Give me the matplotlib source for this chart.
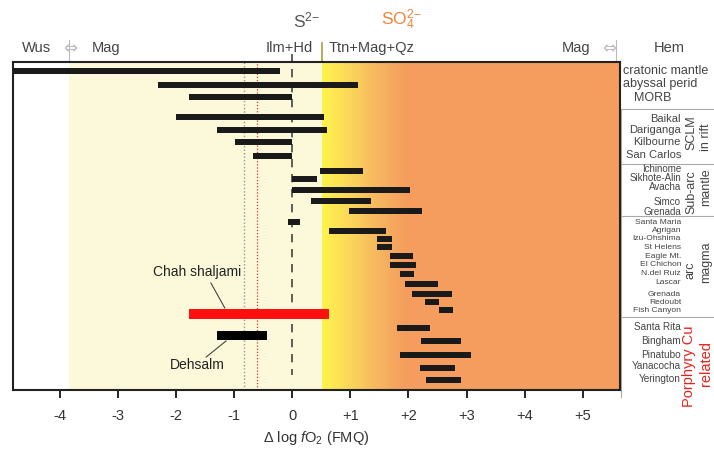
#!/usr/bin/env python3
import numpy as np
import matplotlib
matplotlib.use("Agg")
import matplotlib.pyplot as plt
from matplotlib.colors import LinearSegmentedColormap
from matplotlib.transforms import blended_transform_factory

plt.rcParams['font.family'] = ['Liberation Sans', 'DejaVu Sans']
plt.rcParams['mathtext.fontset'] = 'custom'
plt.rcParams['mathtext.rm'] = 'Liberation Sans'
plt.rcParams['mathtext.it'] = 'Liberation Sans:italic'

# fO2 ranges (delta log fO2 relative to FMQ), one row per locality
names = ["cratonic mantle", "abyssal perid", "MORB",
         "Baikal", "Dariganga", "Kilbourne", "San Carlos",
         "Ichinome", "Sikhote-Alin", "Avacha", "Simco", "Grenada",
         "Santa Maria", "Agrigan", "Izu-Ohshima", "St Helens", "Eagle Mt.",
         "El Chichon", "N.del Ruiz", "Lascar", "Grenada", "Redoubt", "Fish Canyon",
         "Santa Rita", "Bingham", "Pinatubo", "Yanacocha", "Yerington"]
lo = [-4.8, -2.31, -1.77,
      -2.0, -1.29, -0.99, -0.68,
      0.47, 0.0, 0.0, 0.33, 0.98,
      -0.08, 0.63, 1.46, 1.46, 1.68, 1.69, 1.86, 1.94, 2.06, 2.29, 2.52,
      1.80, 2.22, 1.86, 2.20, 2.31]
hi = [-0.21, 1.13, 0.0,
      0.54, 0.60, 0.0, 0.0,
      1.22, 0.42, 2.02, 1.36, 2.23,
      0.13, 1.61, 1.71, 1.71, 2.08, 2.13, 2.10, 2.50, 2.75, 2.53, 2.77,
      2.37, 2.91, 3.07, 2.80, 2.91]
# row positions (uneven spacing between groups), counted down from the top frame
row_y = [9, 23, 35,
         55, 68, 80, 94,
         109, 117, 128, 139, 149,
         160, 169, 177, 185, 194, 203, 212, 222, 232, 240, 248,
         266, 279, 293, 306, 318]
label_y = [9, 22, 36,
           57, 68, 80, 93,
           107, 116, 125, 140, 150,
           161, 169, 177, 185.5, 194, 203, 211.5, 220, 232, 240, 248,
           265, 279, 293, 304, 317]

# this study
study = ["Chah shaljami", "Dehsalm"]
study_lo = [-1.77, -1.29]
study_hi = [0.64, -0.44]
study_y = [252, 273]

ticks = [-4, -3, -2, -1, 0, 1, 2, 3, 4, 5]
tick_labels = ["-4", "-3", "-2", "-1", "0", "+1", "+2", "+3", "+4", "+5"]

fig = plt.figure(figsize=(7.14, 4.55), dpi=100)
ax = fig.add_axes([13.3 / 714, 1 - 390 / 455, (620 - 13.3) / 714, 328 / 455])
x0, x1 = -4.8, 5.64
ax.set_xlim(x0, x1)
ax.set_ylim(328, 0)

# background: Wus | Mag (pale) | gradient | SO4 field
ax.axvspan(-3.84, 0.52, color="#FCF8DA", lw=0, zorder=0)
ax.axvspan(1.95, x1, color="#F49D5E", lw=0, zorder=0)
cmap = LinearSegmentedColormap.from_list("g", ["#FFF44C", "#FBD65A", "#F7B660", "#F49D5E"])
grad = np.linspace(0, 1, 256).reshape(1, -1)
ax.imshow(grad, cmap=cmap, aspect="auto", extent=[0.52, 1.95, 328, 0], zorder=0)

ax.axvline(-0.83, color="#999999", lw=1.0, ls=(0, (1, 1.5)), zorder=1)
ax.axvline(-0.6, color="#E03030", lw=0.9, ls=(0, (1, 1.5)), zorder=1)
ax.plot([0, 0], [-8, 313], color="#444444", lw=1.2, ls=(0, (5, 4)), zorder=1, clip_on=False)

heights = [6.5] + [5.5] * (len(lo) - 1)
ax.barh(row_y, np.array(hi) - np.array(lo), left=lo, height=heights, color="#1a1a1a", zorder=3)
ax.barh(study_y[0], study_hi[0] - study_lo[0], left=study_lo[0], height=10, color="#FF1010", zorder=3)
ax.barh(study_y[1], study_hi[1] - study_lo[1], left=study_lo[1], height=9, color="#000000", zorder=3)

ax.text(-1.63, 210, study[0], fontsize=10, ha="center", va="center", color="#222222")
ax.plot([-1.4, -1.16], [221, 246], color="#444444", lw=0.8)
ax.text(-1.64, 303, study[1], fontsize=10, ha="center", va="center", color="#222222")
ax.plot([-1.48, -1.14], [295, 279], color="#444444", lw=0.8)

ax.set_xticks(ticks)
ax.set_xticklabels(tick_labels, fontsize=10.5, color="#333333")
ax.set_yticks([])
ax.tick_params(axis="x", direction="out", length=6, width=1.2, pad=8)
for s in ax.spines.values():
    s.set_linewidth(1.5)
    s.set_color("#222222")
ax.set_xlabel(r"$\Delta$ log $\it{f}$O$_2$ (FMQ)", fontsize=10.5, color="#333333", labelpad=4)

# labels above the frame
tr = blended_transform_factory(ax.transData, fig.transFigure)
def fy(px):
    return 1 - px / 455
ax.text(-4.4, fy(48), "Wus", transform=tr, fontsize=10.5, color="#444444", ha="center", va="center")
ax.text(-3.82, fy(48), "\u21d4", transform=tr, fontsize=12, color="#BBBBBB", ha="center", va="center",
        family=["DejaVu Sans"])
ax.text(-3.2, fy(48), "Mag", transform=tr, fontsize=10.5, color="#444444", ha="center", va="center")
ax.plot([-3.84, -3.84], [fy(40), fy(62)], transform=tr, color="#BBBBBB", lw=0.8, clip_on=False)
ax.text(-0.06, fy(48), "Ilm+Hd", transform=tr, fontsize=10.5, color="#444444", ha="center", va="center")
ax.plot([0.52, 0.52], [fy(43), fy(62)], transform=tr, color="#A8A040", lw=1.2, clip_on=False)
ax.text(1.37, fy(48), "Ttn+Mag+Qz", transform=tr, fontsize=10.5, color="#444444", ha="center", va="center")
ax.text(4.88, fy(48), "Mag", transform=tr, fontsize=10.5, color="#444444", ha="center", va="center")
ax.text(5.46, fy(48), "\u21d4", transform=tr, fontsize=12, color="#BBBBBB", ha="center", va="center",
        family=["DejaVu Sans"])
ax.plot([5.57, 5.57], [fy(40), fy(62)], transform=tr, color="#BBBBBB", lw=0.8, clip_on=False)
ax.text(0.24, fy(20), r"S$^{2\mathrm{-}}$", transform=tr, fontsize=12.5, color="#555555", ha="center", va="center")
ax.text(1.87, fy(20), r"SO$_4^{2\mathrm{-}}$", transform=tr, fontsize=12.5, color="#F08436", ha="center", va="center")
ax.text(6.48, fy(48), "Hem", transform=tr, fontsize=10.5, color="#444444", ha="center", va="center")

# right-hand locality labels
rt = blended_transform_factory(fig.transFigure, ax.transData)
for i, (n, y) in enumerate(zip(names, label_y)):
    if i < 2:
        ax.text(623 / 714, y, n, transform=rt, fontsize=9, color="#444444", ha="left", va="center")
    elif i == 2:
        ax.text(653 / 714, y, n, transform=rt, fontsize=9, color="#444444", ha="center", va="center")
    else:
        if i < 7:
            fs = 8
        elif i < 12:
            fs = 7
        elif i < 23:
            fs = 6.1
        else:
            fs = 7.2
        ax.text(681 / 714, y, n, transform=rt, fontsize=fs, color="#444444", ha="right", va="center")

groups = [("SCLM", 691, 71, "#444444", 9), ("in rift", 706, 75, "#444444", 9),
          ("Sub-arc", 691, 130, "#444444", 9), ("mantle", 706, 125, "#444444", 9),
          ("arc", 690, 208, "#444444", 9), ("magma", 706, 200, "#444444", 9),
          ("Porphyry Cu", 689, 304, "#E8231C", 10.5), ("related", 706, 302, "#E8231C", 10.5)]
for txt, px, y, c, fs in groups:
    ax.text(px / 714, y, txt, transform=rt, fontsize=fs, color=c, rotation=90, ha="center", va="center")

for y in [46.7, 102.3, 153.7, 255.3]:
    ax.plot([620 / 714, 1.0], [y, y], transform=rt, color="#AAAAAA", lw=0.8, clip_on=False)
ax.plot([621 / 714, 621 / 714], [46.7, 335], transform=rt, color="#AAAAAA", lw=0.8, clip_on=False)

fig.savefig("out.png", dpi=100)
